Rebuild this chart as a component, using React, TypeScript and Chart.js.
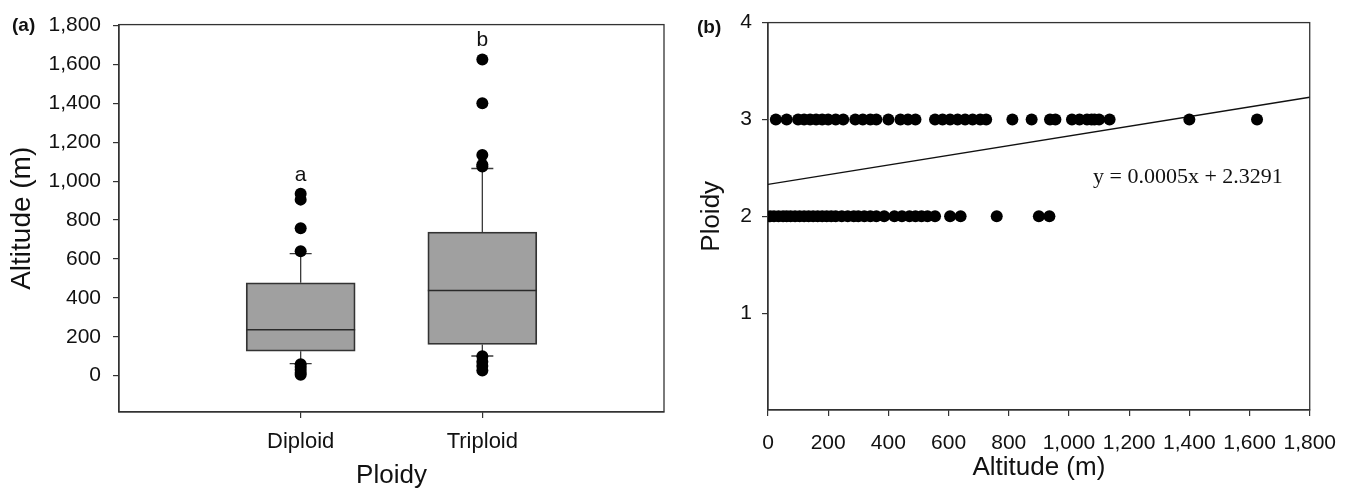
import React, { useEffect, useRef } from 'react';
import { Chart, registerables } from 'chart.js';

Chart.register(...registerables);

// ---------- Panel (a): box plot data ----------
const CATEGORIES = ['Diploid', 'Triploid'];
const Q1 = [126, 160];
const MEDIAN = [236, 438];
const Q3 = [477, 738];
const WHISKER_LOW = [62, 101];
const WHISKER_HIGH = [627, 1065];
const OUTLIERS_DIPLOID = [935, 905, 758, 640, 58, 45, 30, 15, 5];
const OUTLIERS_TRIPLOID = [1625, 1400, 1135, 1085, 1075, 100, 72, 50, 26];
const GROUP_LETTERS = ['a', 'b'];
const LETTER_Y = [1031, 1724];
const ALT_TICKS = [0, 200, 400, 600, 800, 1000, 1200, 1400, 1600, 1800];

// ---------- Panel (b): scatter data ----------
const TRIPLOID_ALT = [
  26, 62, 100, 120, 140, 160, 180, 200, 225, 250, 290, 315, 340, 360, 400, 440,
  465, 490, 555, 580, 605, 630, 655, 680, 705, 725, 812, 876, 937, 955, 1010,
  1035, 1060, 1075, 1085, 1100, 1135, 1400, 1625,
];
const DIPLOID_ALT = [
  7, 20, 35, 50, 62, 75, 90, 105, 120, 135, 150, 165, 180, 195, 210, 225, 245,
  265, 285, 300, 320, 340, 360, 386, 420, 445, 470, 490, 510, 530, 555, 605,
  640, 760, 900, 935,
];
const PLOIDY_TICKS = [1, 2, 3, 4];
const REG_SLOPE = 0.0005;
const REG_INTERCEPT = 2.3291;
const REG_RANGE = [0, 1800];
const EQUATION = 'y = 0.0005x + 2.3291';
const EQ_POS = { x: 1080, y: 2.4 };

const SANS = "'Liberation Sans', Arial, sans-serif";
const SERIF = "'Liberation Serif', 'Times New Roman', serif";
const AXIS_COLOR = '#333';

const fmt = (v: number) => Number(v).toLocaleString('en-US');

const framePlugin = {
  id: 'frame',
  beforeDatasetsDraw(chart: any) {
    const { ctx, chartArea } = chart;
    ctx.save();
    ctx.strokeStyle = AXIS_COLOR;
    ctx.lineWidth = 1.3;
    ctx.strokeRect(chartArea.left, chartArea.top, chartArea.right - chartArea.left, chartArea.bottom - chartArea.top);
    ctx.restore();
  },
};

function panelLabel(text: string, x: number, y: number) {
  return {
    id: 'panelLabel' + text,
    afterDraw(chart: any) {
      const { ctx } = chart;
      ctx.save();
      ctx.font = `bold 19px ${SANS}`;
      ctx.fillStyle = '#111';
      ctx.textAlign = 'left';
      ctx.textBaseline = 'middle';
      ctx.fillText(text, x, y);
      ctx.restore();
    },
  };
}

const boxPlugin = {
  id: 'boxParts',
  beforeDatasetsDraw(chart: any) {
    const { ctx } = chart;
    const x = chart.scales.x;
    const y = chart.scales.y;
    ctx.save();
    ctx.strokeStyle = '#3a3a3a';
    ctx.lineWidth = 1.3;
    CATEGORIES.forEach((_, i) => {
      const cx = x.getPixelForValue(i + 1);
      const capHalf = 11;
      ctx.beginPath();
      ctx.moveTo(cx, y.getPixelForValue(Q3[i]));
      ctx.lineTo(cx, y.getPixelForValue(WHISKER_HIGH[i]));
      ctx.moveTo(cx, y.getPixelForValue(Q1[i]));
      ctx.lineTo(cx, y.getPixelForValue(WHISKER_LOW[i]));
      ctx.moveTo(cx - capHalf, y.getPixelForValue(WHISKER_HIGH[i]));
      ctx.lineTo(cx + capHalf, y.getPixelForValue(WHISKER_HIGH[i]));
      ctx.moveTo(cx - capHalf, y.getPixelForValue(WHISKER_LOW[i]));
      ctx.lineTo(cx + capHalf, y.getPixelForValue(WHISKER_LOW[i]));
      ctx.stroke();
    });
    ctx.restore();
  },
  afterDatasetDraw(chart: any, args: any) {
    if (args.index !== 1) return;
    const { ctx } = chart;
    const y = chart.scales.y;
    const meta = chart.getDatasetMeta(1);
    ctx.save();
    ctx.strokeStyle = '#2a2a2a';
    ctx.lineWidth = 1.6;
    meta.data.forEach((bar: any, i: number) => {
      const py = y.getPixelForValue(MEDIAN[i]);
      ctx.beginPath();
      ctx.moveTo(bar.x - bar.width / 2, py);
      ctx.lineTo(bar.x + bar.width / 2, py);
      ctx.stroke();
    });
    ctx.restore();
  },
  afterDatasetsDraw(chart: any) {
    const { ctx } = chart;
    const x = chart.scales.x;
    const y = chart.scales.y;
    ctx.save();
    ctx.font = `21px ${SANS}`;
    ctx.fillStyle = '#111';
    ctx.textAlign = 'center';
    ctx.textBaseline = 'middle';
    GROUP_LETTERS.forEach((t, i) => {
      ctx.fillText(t, x.getPixelForValue(i + 1), y.getPixelForValue(LETTER_Y[i]));
    });
    ctx.restore();
  },
};

const equationPlugin = {
  id: 'equation',
  afterDatasetsDraw(chart: any) {
    const { ctx } = chart;
    ctx.save();
    ctx.font = `22px ${SERIF}`;
    ctx.fillStyle = '#111';
    ctx.textAlign = 'left';
    ctx.textBaseline = 'middle';
    ctx.fillText(EQUATION, chart.scales.x.getPixelForValue(EQ_POS.x), chart.scales.y.getPixelForValue(EQ_POS.y));
    ctx.restore();
  },
};

const axisCommon = (extra: any) => ({
  grid: { drawOnChartArea: false, drawTicks: true, tickLength: 6, color: AXIS_COLOR, lineWidth: 1.2, offset: false },
  border: { display: true, color: AXIS_COLOR, width: 1.3 },
  ...extra,
});

export default function App() {
  const refA = useRef<HTMLCanvasElement>(null);
  const refB = useRef<HTMLCanvasElement>(null);

  useEffect(() => {
    const outliers = [
      ...OUTLIERS_DIPLOID.map((v) => ({ x: 1, y: v })),
      ...OUTLIERS_TRIPLOID.map((v) => ({ x: 2, y: v })),
    ];
    const chartA = new Chart(refA.current as HTMLCanvasElement, {
      type: 'bar',
      data: {
        datasets: [
          {
            type: 'scatter',
            data: outliers,
            pointRadius: 6,
            pointBackgroundColor: '#000',
            pointBorderWidth: 0,
            backgroundColor: '#000',
          } as any,
          {
            type: 'bar',
            data: CATEGORIES.map((_, i) => ({ x: i + 1, y: [Q1[i], Q3[i]] })),
            backgroundColor: '#a0a0a0',
            borderColor: '#333',
            borderWidth: 1.8,
            borderSkipped: false,
            barThickness: 109,
          } as any,
        ],
      },
      options: {
        animation: false,
        responsive: false,
        events: [],
        layout: { padding: { top: 18, right: 26, bottom: 0, left: 0 } },
        plugins: { legend: { display: false }, tooltip: { enabled: false } },
        scales: {
          x: axisCommon({
            type: 'linear',
            min: 0,
            max: 3,
            offset: false,
            afterBuildTicks: (s: any) => { s.ticks = CATEGORIES.map((_, i) => ({ value: i + 1 })); },
            afterFit: (s: any) => { s.height = 77; },
            ticks: {
              autoSkip: false,
              maxRotation: 0,
              padding: 11,
              color: '#111',
              font: { family: SANS, size: 22 },
              callback: (v: any) => CATEGORIES[Number(v) - 1] ?? '',
            },
            title: { display: true, text: 'Ploidy', color: '#111', font: { family: SANS, size: 26, lineHeight: 1 }, padding: { top: 0, bottom: 0 } },
          }),
          y: axisCommon({
            type: 'linear',
            min: -187,
            max: 1805,
            afterBuildTicks: (s: any) => { s.ticks = ALT_TICKS.map((v) => ({ value: v })); },
            afterFit: (s: any) => { s.width = 119; },
            ticks: {
              padding: 12,
              color: '#111',
              font: { family: SANS, size: 21 },
              callback: (v: any) => fmt(v),
            },
            title: { display: true, text: 'Altitude (m)', color: '#111', font: { family: SANS, size: 28, lineHeight: 1 }, padding: { top: 8, bottom: 0 } },
          }),
        },
      },
      plugins: [framePlugin, boxPlugin, panelLabel('(a)', 12, 26)],
    });

    const chartB = new Chart(refB.current as HTMLCanvasElement, {
      type: 'scatter',
      data: {
        datasets: [
          {
            data: TRIPLOID_ALT.map((v) => ({ x: v, y: 3 })),
            pointRadius: 6,
            pointBackgroundColor: '#000',
            pointBorderWidth: 0,
          },
          {
            data: DIPLOID_ALT.map((v) => ({ x: v, y: 2 })),
            pointRadius: 6,
            pointBackgroundColor: '#000',
            pointBorderWidth: 0,
          },
          {
            type: 'line',
            data: REG_RANGE.map((v) => ({ x: v, y: REG_INTERCEPT + REG_SLOPE * v })),
            borderColor: '#111',
            borderWidth: 1.3,
            pointRadius: 0,
            fill: false,
          } as any,
        ],
      },
      options: {
        animation: false,
        responsive: false,
        events: [],
        layout: { padding: { top: 18, right: 38, bottom: 0, left: 0 } },
        plugins: { legend: { display: false }, tooltip: { enabled: false } },
        scales: {
          x: axisCommon({
            type: 'linear',
            min: 0,
            max: 1800,
            afterFit: (s: any) => { s.height = 79; },
            ticks: {
              stepSize: 200,
              autoSkip: false,
              maxRotation: 0,
              padding: 15,
              color: '#111',
              font: { family: SANS, size: 21 },
              callback: (v: any) => fmt(v),
            },
            title: { display: true, text: 'Altitude (m)', color: '#111', font: { family: SANS, size: 26, lineHeight: 1 }, padding: { top: 0, bottom: 8 } },
          }),
          y: axisCommon({
            type: 'linear',
            min: 0,
            max: 4,
            afterBuildTicks: (s: any) => { s.ticks = PLOIDY_TICKS.map((v) => ({ value: v })); },
            afterFit: (s: any) => { s.width = 78; },
            ticks: {
              padding: 10,
              color: '#111',
              font: { family: SANS, size: 21 },
            },
            title: { display: true, text: 'Ploidy', color: '#111', font: { family: SANS, size: 26, lineHeight: 1 }, padding: { top: 9, bottom: 0 } },
          }),
        },
      },
      plugins: [framePlugin, equationPlugin, panelLabel('(b)', 7, 28)],
    });

    return () => {
      chartA.destroy();
      chartB.destroy();
    };
  }, []);

  return (
    <div style={{ position: 'absolute', left: 0, top: 0, width: 1351, height: 489, background: '#fff', overflow: 'hidden' }}>
      <canvas ref={refA} width={690} height={489} style={{ position: 'absolute', left: 0, top: 0, width: 690, height: 489 }} />
      <canvas ref={refB} width={661} height={489} style={{ position: 'absolute', left: 690, top: 0, width: 661, height: 489 }} />
    </div>
  );
}
